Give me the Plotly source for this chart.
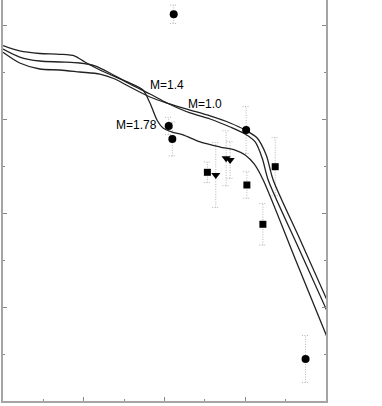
import plotly.graph_objects as go

# model curves (three masses)
m178_x = [0, 0.414, 0.911, 1.407, 1.779, 2.027, 2.4, 3.062, 3.467, 3.64, 3.814, 3.963, 4.186,
          4.459, 4.881, 5.377, 5.749, 5.998, 6.221, 6.444, 7.238, 8.025]
m178_y = [7.56, 7.447, 7.394, 7.377, 7.34, 7.213, 7.043, 6.794, 6.617, 6.34, 5.979, 5.809, 5.723,
          5.66, 5.511, 5.404, 5.34, 5.234, 5.043, 4.702, 3.021, 1.362]

m14_x = [0, 0.414, 0.911, 1.407, 1.903, 2.275, 2.648, 3.144, 3.64, 4.062, 4.633, 5.129, 5.625,
         5.998, 6.246, 6.419, 6.568, 7.288, 8.025]
m14_y = [7.489, 7.319, 7.234, 7.213, 7.191, 7.128, 6.979, 6.745, 6.532, 6.34, 6.128, 6.0, 5.83,
         5.681, 5.511, 5.17, 4.702, 3.319, 1.915]

m10_x = [0, 0.414, 0.911, 1.407, 1.903, 2.4, 2.772, 3.144, 3.64, 4.062, 4.633, 5.129, 5.625,
         5.998, 6.295, 6.519, 6.692, 7.362, 8.025]
m10_y = [7.419, 7.191, 7.064, 7.043, 7.0, 6.957, 6.851, 6.681, 6.468, 6.34, 6.191, 6.064, 5.915,
         5.766, 5.596, 5.234, 4.702, 3.426, 2.149]

# observations
circ_x = [4.228, 4.104, 4.194, 6.022, 7.494]
circ_y = [8.228, 5.851, 5.574, 5.766, 0.894]
circ_e = [0.195, 0.185, 0.36, 0.5, 0.5]

sq_x = [5.062, 6.040, 6.742, 6.437]
sq_y = [4.866, 4.596, 4.985, 3.760]
sq_e = [0.219, 0.283, 0.617, 0.443]

tri_x = [5.270, 5.526, 5.625]
tri_y = [4.809, 5.164, 5.128]
tri_e = [0.69, 0.585, 0.39]

labels = ['M=1.4', 'M=1.0', 'M=1.78']
label_x = [4.062, 5.005, 3.30]
label_y = [6.723, 6.319, 5.879]

fig = go.Figure()

# dotted error bars with caps
ex, ey = [], []
cap = 0.09
for xs, ys, es in [(circ_x, circ_y, circ_e), (sq_x, sq_y, sq_e), (tri_x, tri_y, tri_e)]:
    for x, y, e in zip(xs, ys, es):
        ex += [x, x, None, x - cap, x + cap, None, x - cap, x + cap, None]
        ey += [y - e, y + e, None, y - e, y - e, None, y + e, y + e, None]
fig.add_trace(go.Scatter(x=ex, y=ey, mode='lines',
                         line=dict(color='#b4b4b4', width=1, dash='1px,1.5px'),
                         hoverinfo='skip'))

for xs, ys in [(m178_x, m178_y), (m14_x, m14_y), (m10_x, m10_y)]:
    fig.add_trace(go.Scatter(x=xs, y=ys, mode='lines',
                             line=dict(color='#222', width=1.3, shape='spline', smoothing=0.8)))

fig.add_trace(go.Scatter(x=circ_x, y=circ_y, mode='markers',
                         marker=dict(symbol='circle', size=8, color='black')))
fig.add_trace(go.Scatter(x=sq_x, y=sq_y, mode='markers',
                         marker=dict(symbol='square', size=7, color='black')))
fig.add_trace(go.Scatter(x=tri_x, y=tri_y, mode='markers',
                         marker=dict(symbol='triangle-down', size=8, color='black')))

for t, x, y in zip(labels, label_x, label_y):
    fig.add_annotation(x=x, y=y, text=t, showarrow=False, xanchor='center', yanchor='middle',
                       font=dict(family='Liberation Sans, Arial', size=12, color='black'))

axis_line = dict(showline=True, linecolor='#a5a5a5', linewidth=1.5, showgrid=False,
                 zeroline=False, showticklabels=False, ticks='inside', ticklen=4,
                 tickcolor='#888', tickwidth=1)
fig.update_xaxes(range=[0, 8], dtick=2, tick0=0,
                 minor=dict(dtick=1, ticks='inside', ticklen=2, tickcolor='#888'), **axis_line)
fig.update_yaxes(range=[0, 401 / 47], dtick=2, tick0=0, mirror='ticks',
                 minor=dict(dtick=1, ticks='inside', ticklen=2, tickcolor='#888'), **axis_line)

fig.update_layout(width=382, height=406, showlegend=False,
                  margin=dict(l=3, r=56, t=0, b=5, pad=0),
                  plot_bgcolor='white', paper_bgcolor='white')

fig.write_html("out.html", config={'displayModeBar': False},
               post_script="document.body.style.margin='0px';")
